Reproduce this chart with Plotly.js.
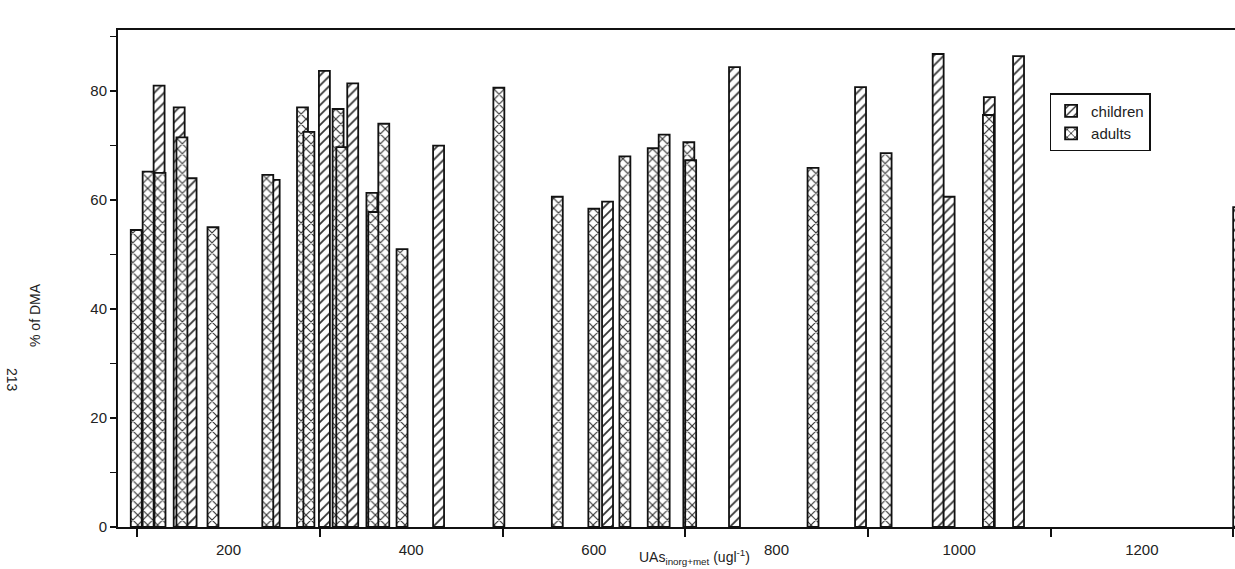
<!DOCTYPE html>
<html>
<head>
<meta charset="utf-8">
<script src="https://cdn.plot.ly/plotly-3.0.1.min.js"></script>
<style>html,body{margin:0;padding:0;background:#fff;}</style>
</head>
<body>
<div id="chart" style="width:1235px;height:569px;"></div>
<script>
// Children series (UAs inorg+met, ugl-1 ; % of DMA)
const childrenX = [124, 146, 159, 250, 305, 336, 430, 615, 754, 892, 977, 989, 1033, 1065, 1306];
const childrenY = [81, 77, 64, 63.7, 83.7, 81.4, 70, 59.7, 84.4, 80.7, 86.8, 60.6, 78.9, 86.4, 58.7];
// Adults series
const adultsX = [99, 112, 125, 149, 183, 243, 281, 288, 320, 324, 357, 359, 370, 390, 496, 560, 600, 634, 665, 677, 704, 706, 840, 920, 1032];
const adultsY = [54.5, 65.2, 65, 71.5, 55, 64.6, 77, 72.5, 76.7, 69.7, 61.3, 57.8, 74, 51, 80.6, 60.6, 58.4, 68, 69.5, 72, 70.6, 67.3, 65.9, 68.6, 75.6];
const xTickVals = [200, 400, 600, 800, 1000, 1200];
const xMinorVals = [100, 300, 500, 700, 900, 1100, 1300];
const yTickVals = [0, 20, 40, 60, 80];

const font = 'Liberation Sans, Arial, sans-serif';
const barW = 12;

const traces = [
  {
    type: 'bar', name: 'children', x: childrenX, y: childrenY, width: barW,
    marker: { color: '#ffffff', line: { color: '#111', width: 1.8 },
      pattern: { shape: '/', fgcolor: '#333', bgcolor: '#ffffff', size: 7, solidity: 0.25 } }
  },
  {
    type: 'bar', name: 'adults', x: adultsX, y: adultsY, width: barW,
    marker: { color: '#ffffff', line: { color: '#111', width: 1.8 },
      pattern: { shape: 'x', fgcolor: '#333', bgcolor: '#ffffff', size: 7, solidity: 0.3 } }
  }
];

const layout = {
  width: 1235, height: 569,
  margin: { l: 118, r: 0, t: 30, b: 42 },
  paper_bgcolor: '#fff', plot_bgcolor: '#fff',
  barmode: 'overlay',
  showlegend: true,
  legend: {
    x: 0.834, y: 0.873, xanchor: 'left', yanchor: 'top',
    bordercolor: '#111', borderwidth: 1.5, bgcolor: '#fff',
    font: { family: font, size: 15, color: '#222' },
    tracegroupgap: 0
  },
  xaxis: {
    range: [79, 1302], tickmode: 'array', tickvals: xTickVals,
    ticks: '', showgrid: false, zeroline: false,
    showline: true, linecolor: '#111', linewidth: 2, mirror: true,
    tickfont: { family: font, size: 15, color: '#222' },
    ticklabelstandoff: 8,
    minor: { tickmode: 'array', tickvals: xMinorVals, ticks: 'outside', ticklen: 8, tickwidth: 2, tickcolor: '#111', showgrid: false }
  },
  yaxis: {
    range: [0, 91.2], tickmode: 'array', tickvals: yTickVals,
    ticks: 'outside', ticklen: 6, tickwidth: 1.5, tickcolor: '#111',
    showgrid: false, zeroline: false,
    showline: true, linecolor: '#111', linewidth: 2,
    tickfont: { family: font, size: 15, color: '#222' },
    minor: { dtick: 10, ticks: 'outside', ticklen: 6, tickwidth: 1.5, tickcolor: '#111', showgrid: false }
  },
  annotations: [
    { text: '% of DMA', xref: 'paper', yref: 'paper', x: -0.0743, y: 0.4266,
      xanchor: 'center', yanchor: 'middle',
      textangle: -90, showarrow: false, font: { family: font, size: 14, color: '#222' } },
    { text: '213', xref: 'paper', yref: 'paper', x: -0.0949, y: 0.296,
      xanchor: 'center', yanchor: 'middle',
      textangle: 90, showarrow: false, font: { family: font, size: 14, color: '#222' } },
    { text: 'UAs<sub>inorg+met</sub> (ugl<sup>-1</sup>)', xref: 'paper', yref: 'paper',
      x: 0.5165, y: -0.06, xanchor: 'center', yanchor: 'middle', showarrow: false,
      font: { family: font, size: 14, color: '#222' } }
  ]
};

Plotly.newPlot('chart', traces, layout, { displayModeBar: false, staticPlot: true });
</script>
</body>
</html>
